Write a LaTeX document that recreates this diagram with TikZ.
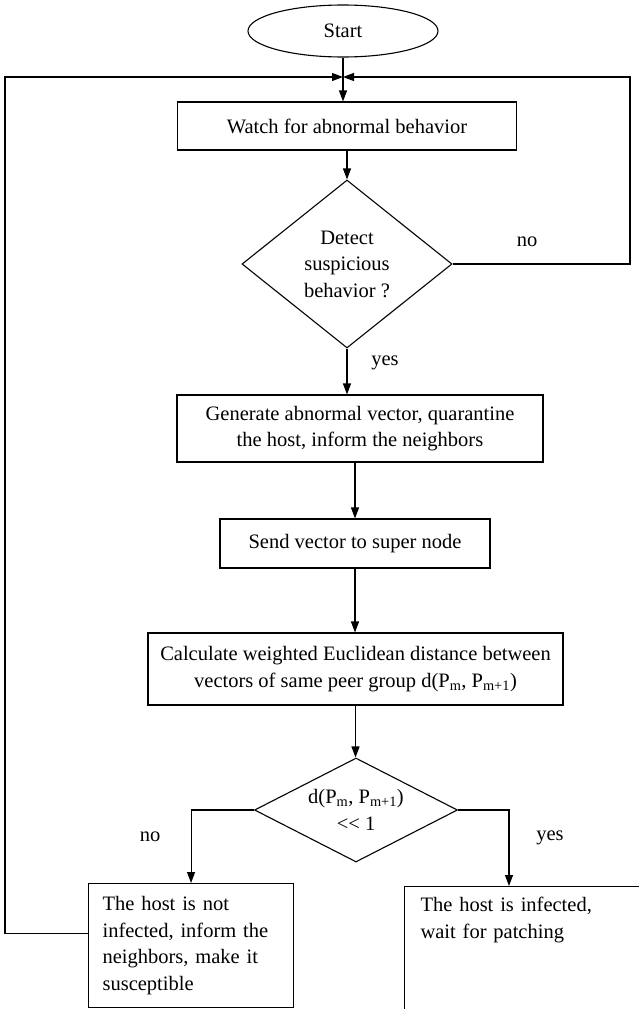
\documentclass[tikz,border=0pt]{standalone}
\usepackage{fontspec}
\setmainfont{Liberation Serif}
\usetikzlibrary{shapes.geometric,arrows.meta}
\begin{document}
\begin{tikzpicture}[x=1pt,y=-1pt,
  font=\fontsize{20.5}{26.5}\selectfont,
  line width=1.1pt,
  arr/.style={-{Triangle[length=11pt,width=8pt]}},
  box/.style={draw, rectangle, inner sep=0pt, align=center},
  dec/.style={draw, diamond, inner sep=0pt, align=center},
  lbl/.style={inner sep=0pt}]
\clip (0,0) rectangle (639,1009);
\node[draw, ellipse, inner sep=0pt, minimum width=190pt, minimum height=52pt] (start) at (343,31) {Start};
\coordinate (j) at (343,77);
\node[box, minimum width=339pt, minimum height=48pt] (watch) at (347,126) {Watch for abnormal behavior};
\node[dec, shape aspect=1.25, minimum width=210pt, minimum height=168pt] (d1) at (347,264) {Detect\\suspicious\\behavior ?};
\node[box, minimum width=366pt, minimum height=67pt] (gen) at (360,428.5) {Generate abnormal vector, quarantine\\the host, inform the neighbors};
\node[box, minimum width=270pt, minimum height=49pt] (send) at (355,543.5) {Send vector to super node};
\node[box, minimum width=415pt, minimum height=72pt] (calc) at (355.5,669) {Calculate weighted Euclidean distance between\\vectors of same peer group d(P\textsubscript{m}, P\textsubscript{m+1})};
\node[dec, shape aspect=1.95, minimum width=203pt, minimum height=104pt] (d2) at (356,810) {d(P\textsubscript{m}, P\textsubscript{m+1})\\<\kern0pt< 1};
\node[draw, rectangle, anchor=north west, inner xsep=14pt, inner ysep=0pt, text width=177pt, minimum height=124pt, align=left] (nothost) at (88,883) {The host is not\\infected, inform the\\neighbors, make it\\susceptible};
\node[draw, rectangle, anchor=north west, inner xsep=16pt, inner ysep=11pt, text width=228pt, text depth=150pt, align=left] (infected) at (404,886) {The host is infected,\\wait for patching};
\coordinate (rtop) at (509,886);
\coordinate (lx) at (5,500);
\coordinate (rx) at (630,150);
\node[lbl] (no1) at (527,242) {no};
\node[lbl] (yes1) at (385,363) {yes};
\node[lbl] (no2) at (150,837) {no};
\node[lbl] (yes2) at (550,838) {yes};
\draw[arr] (start.south) -- (start.south |- watch.north);
\draw[arr] (watch.south) -- (d1.north);
\draw[arr] (d1.south) -- (d1.south |- gen.north);
\draw[arr] (send.north |- gen.south) -- (send.north);
\draw[arr] (send.south) -- (send.south |- calc.north);
\draw[arr] (calc.south) -- (calc.south |- d2.north);
\draw[arr] (d2.west) -| (nothost.north);
\draw[arr] (d2.east) -| (rtop);
\draw[arr] (d1.east) -| (rx) |- (j);
\draw[arr] ([yshift=12pt]nothost.west) -| (lx) |- (j);
\end{tikzpicture}
\end{document}
